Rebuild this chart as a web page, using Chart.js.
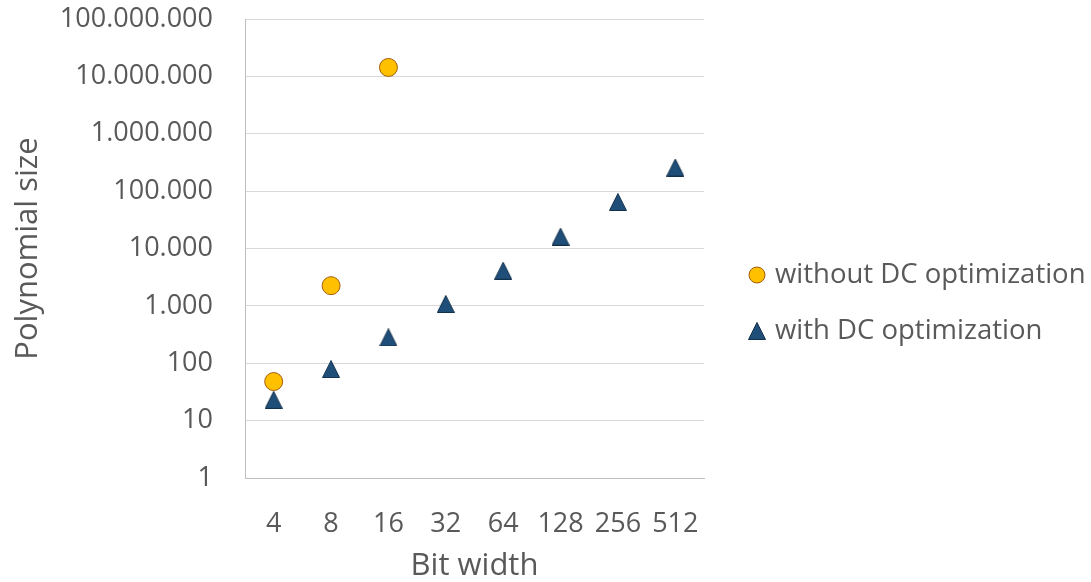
<!DOCTYPE html>
<html>
<head>
<meta charset="utf-8">
<script src="https://cdn.jsdelivr.net/npm/chart.js@4/dist/chart.umd.min.js"></script>
<style>
  html, body { margin: 0; padding: 0; background: #fff; }
  #wrap { width: 1091px; height: 582px; position: relative; }
</style>
</head>
<body>
<div id="wrap"><canvas id="myChart"></canvas></div>
<script>
const bitWidths = ['4', '8', '16', '32', '64', '128', '256', '512'];
const withoutDC = [48, 2250, 14300000, null, null, null, null, null];
const withDC = [23, 79, 282, 1080, 4100, 16100, 64600, 258000];
const yTicks = [1, 10, 100, 1000, 10000, 100000, 1000000, 10000000, 100000000];

const textColor = '#595959';
const fontFamily = "'Open Sans', 'Liberation Sans', sans-serif";

function formatDots(v) {
    return String(v).replace(/\B(?=(\d{3})+(?!\d))/g, '.');
}

// Excel style triangle marker, centred on its bounding box
function makeTriangle(size, fill, stroke) {
    const c = document.createElement('canvas');
    c.width = size;
    c.height = size;
    const g = c.getContext('2d');
    g.beginPath();
    g.moveTo(size / 2, 0.5);
    g.lineTo(size - 0.5, size - 0.5);
    g.lineTo(0.5, size - 0.5);
    g.closePath();
    g.fillStyle = fill;
    g.fill();
    g.strokeStyle = stroke;
    g.lineWidth = 1;
    g.stroke();
    return c;
}
const triangleMarker = makeTriangle(18, '#1f4e79', '#13304b');

// legend drawn by hand so the plot area keeps its place
const sideLegend = {
    id: 'sideLegend',
    afterDraw(chart) {
        const ctx = chart.ctx;
        const area = chart.chartArea;
        const x = area.right + 53;
        const midY = 303;
        const gap = 56;
        ctx.save();
        ctx.font = '27.5px ' + fontFamily;
        ctx.textBaseline = 'middle';
        chart.data.datasets.forEach((ds, i) => {
            const y = midY + (i - 0.5) * gap;
            ctx.fillStyle = ds.backgroundColor;
            ctx.strokeStyle = ds.borderColor;
            ctx.lineWidth = 1;
            Chart.helpers.drawPoint(ctx, {
                pointStyle: ds.pointStyle,
                radius: 8,
                rotation: 0,
                borderWidth: 1
            }, x, y);
            ctx.fillStyle = textColor;
            ctx.fillText(ds.label, x + 18, y);
        });
        ctx.restore();
    }
};

const ctx = document.getElementById('myChart').getContext('2d');
const myChart = new Chart(ctx, {
    type: 'line',
    data: {
        labels: bitWidths,
        datasets: [{
            label: 'without DC optimization',
            data: withoutDC,
            showLine: false,
            pointStyle: 'circle',
            pointRadius: 9,
            backgroundColor: '#ffc000',
            borderColor: '#a35c0c',
            borderWidth: 1
        }, {
            label: 'with DC optimization',
            data: withDC,
            showLine: false,
            pointStyle: triangleMarker,
            pointRadius: 9,
            backgroundColor: '#1f4e79',
            borderColor: '#13304b',
            borderWidth: 1
        }]
    },
    options: {
        responsive: true,
        maintainAspectRatio: false,
        animation: false,
        layout: { padding: { top: 19, right: 387, left: 0, bottom: 0 } },
        plugins: {
            legend: { display: false },
            tooltip: { enabled: false }
        },
        scales: {
            x: {
                offset: true,
                grid: { display: false },
                border: { display: true, color: '#bfbfbf', width: 1 },
                ticks: {
                    color: textColor,
                    font: { family: fontFamily, size: 27 },
                    padding: 22,
                    maxRotation: 0
                },
                title: {
                    display: true,
                    text: 'Bit width',
                    color: textColor,
                    font: { family: fontFamily, size: 31, lineHeight: 1 },
                    padding: { top: 0, bottom: 0 }
                },
                afterFit(scale) { scale.height = 104; }
            },
            y: {
                type: 'logarithmic',
                min: 1,
                max: 100000000,
                grid: { color: '#d9d9d9', drawTicks: false },
                border: { display: true, color: '#bfbfbf', width: 1 },
                afterBuildTicks(scale) {
                    scale.ticks = yTicks.map(v => ({ value: v }));
                },
                ticks: {
                    color: textColor,
                    font: { family: fontFamily, size: 27 },
                    padding: 32,
                    callback: v => formatDots(v)
                },
                title: {
                    display: true,
                    text: 'Polynomial size',
                    color: textColor,
                    font: { family: fontFamily, size: 31, lineHeight: 1 },
                    padding: { top: 13, bottom: 0 }
                },
                afterFit(scale) {
                    scale.width = 245;
                    // tick padding would otherwise push the plot down
                    scale.paddingTop = 0;
                    scale.paddingBottom = 0;
                }
            }
        }
    },
    plugins: [sideLegend]
});
</script>
</body>
</html>
